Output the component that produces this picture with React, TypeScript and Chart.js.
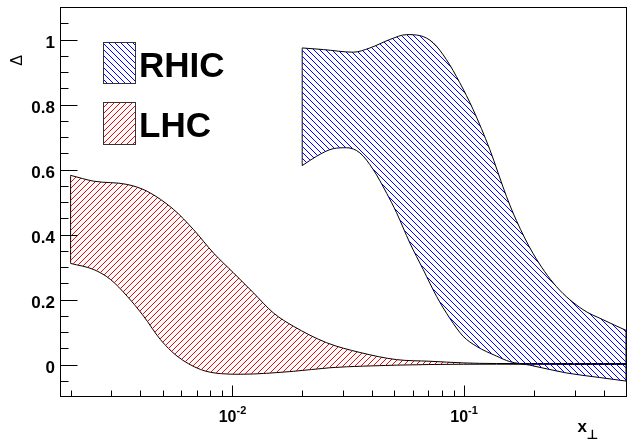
import React, { useEffect, useRef } from "react";
import { Chart, registerables } from "chart.js";
Chart.register(...registerables);

// ---- axis ranges ----
const xMin = 0.0018;
const xMax = 0.5;
const yMin = -0.1;
const yMax = 1.1;

// ---- tick labels ----
const yMajorTicks = [0, 0.2, 0.4, 0.6, 0.8, 1];
const yMajorLabels = ["0", "0.2", "0.4", "0.6", "0.8", "1"];
const yMinorStep = 0.05;
const xMajorTicks = [0.01, 0.1];
const xMajorBase = ["10", "10"];
const xMajorExp = ["-2", "-1"];
const xMinorTicks = [
  0.002, 0.003, 0.004, 0.005, 0.006, 0.007, 0.008, 0.009,
  0.02, 0.03, 0.04, 0.05, 0.06, 0.07, 0.08, 0.09,
  0.2, 0.3, 0.4, 0.5,
];

// ---- legend ----
const legendLabels = ["RHIC", "LHC"];

// ---- LHC band ----
const lhcUpperX = [0.002, 0.00252, 0.00351, 0.00428, 0.00557, 0.00679, 0.00828, 0.0101, 0.0123, 0.015, 0.0183, 0.0255, 0.0355, 0.0511, 0.0712, 0.099, 0.138, 0.192, 0.3, 0.5];
const lhcUpperY = [0.582, 0.564, 0.554, 0.533, 0.477, 0.415, 0.343, 0.282, 0.221, 0.159, 0.118, 0.067, 0.037, 0.015, 0.01, 0.005, 0.003, 0.003, 0.003, 0.003];
const lhcLowerX = [0.002, 0.00252, 0.00297, 0.00351, 0.00413, 0.00488, 0.00576, 0.00726, 0.00885, 0.0108, 0.0183, 0.0263, 0.0367, 0.0511, 0.0712, 0.138, 0.3, 0.5];
const lhcLowerY = [0.311, 0.292, 0.262, 0.21, 0.149, 0.077, 0.026, -0.015, -0.028, -0.03, -0.021, -0.01, -0.005, -0.002, 0.0, 0.001, 0.0, 0.0];

// ---- RHIC band ----
const rhicUpperX = [0.02, 0.0247, 0.0332, 0.0392, 0.0478, 0.0565, 0.0644, 0.0735, 0.0839, 0.0958, 0.1093, 0.129, 0.1524, 0.1682, 0.1983, 0.2502, 0.3258, 0.3973, 0.5];
const rhicUpperY = [0.974, 0.969, 0.961, 0.974, 1.0, 1.015, 1.012, 0.99, 0.938, 0.867, 0.785, 0.662, 0.517, 0.443, 0.342, 0.24, 0.169, 0.138, 0.105];
const rhicLowerX = [0.02, 0.0231, 0.0272, 0.0311, 0.0355, 0.0405, 0.0463, 0.0511, 0.0583, 0.0666, 0.076, 0.0868, 0.099, 0.1131, 0.1379, 0.1574, 0.192, 0.2763, 0.3845, 0.5];
const rhicLowerY = [0.612, 0.641, 0.664, 0.667, 0.651, 0.6, 0.527, 0.467, 0.374, 0.292, 0.21, 0.142, 0.087, 0.056, 0.026, 0.009, -0.002, -0.026, -0.04, -0.051];

const FONT = "'Liberation Sans', Arial, Helvetica, sans-serif";

function makeHatch(ctx: CanvasRenderingContext2D, color: string, forward: boolean) {
  const s = 6;
  const c = document.createElement("canvas");
  c.width = s;
  c.height = s;
  const g = c.getContext("2d")!;
  g.fillStyle = color;
  for (let i = 0; i < s; i++) {
    const y = forward ? (s - i) % s : i;
    g.fillRect(i, y, 1, 1);
  }
  return ctx.createPattern(c, "repeat")!;
}

const pts = (xs: number[], ys: number[]) => xs.map((x, i) => ({ x, y: ys[i] }));

export default function App() {
  const ref = useRef<HTMLCanvasElement>(null);
  useEffect(() => {
    document.body.style.margin = "0";
    const canvas = ref.current!;
    const ctx = canvas.getContext("2d")!;
    const blueHatch = makeHatch(ctx, "#0000ff", false);
    const redHatch = makeHatch(ctx, "#ff0000", true);

    const line = {
      borderColor: "#000000",
      borderWidth: 1,
      pointRadius: 0,
      pointHoverRadius: 0,
      tension: 0.4,
      cubicInterpolationMode: "monotone" as const,
    };

    const framePlugin = {
      id: "rootFrame",
      afterDraw(chart: any) {
        const c: CanvasRenderingContext2D = chart.ctx;
        const xs = chart.scales.x;
        const ys = chart.scales.y;
        const a = chart.chartArea;
        c.save();
        c.strokeStyle = "#000";
        c.fillStyle = "#000";
        c.lineWidth = 1;
        c.strokeRect(Math.round(a.left) + 0.5, Math.round(a.top) + 0.5, Math.round(a.right - a.left), Math.round(a.bottom - a.top) - 1);
        const L = Math.round(a.left) + 0.5;
        const B = Math.round(a.bottom) - 0.5;
        c.beginPath();
        for (let v = yMin; v <= yMax + 1e-9; v += yMinorStep) {
          const vv = Math.round(v * 100) / 100;
          const isMajor = yMajorTicks.some((m) => Math.abs(m - vv) < 1e-6);
          const py = Math.round(ys.getPixelForValue(vv)) + 0.5;
          if (py < a.top + 1 || py > a.bottom - 1) continue;
          c.moveTo(L, py);
          c.lineTo(L + (isMajor ? 17 : 8), py);
        }
        for (const v of xMinorTicks) {
          const px = Math.round(xs.getPixelForValue(v)) + 0.5;
          c.moveTo(px, B);
          c.lineTo(px, B - 6);
        }
        for (const v of xMajorTicks) {
          const px = Math.round(xs.getPixelForValue(v)) + 0.5;
          c.moveTo(px, B);
          c.lineTo(px, B - 11);
        }
        c.stroke();

        // y labels
        c.font = `bold 17px ${FONT}`;
        c.textAlign = "right";
        c.textBaseline = "alphabetic";
        yMajorTicks.forEach((v, i) => {
          const py = ys.getPixelForValue(v);
          c.fillText(yMajorLabels[i], 55, py + 8.5);
        });

        // x labels with superscripts
        c.textAlign = "left";
        xMajorTicks.forEach((v, i) => {
          const px = xs.getPixelForValue(v);
          c.font = `bold 16px ${FONT}`;
          const w1 = c.measureText(xMajorBase[i]).width;
          c.font = `bold 11px ${FONT}`;
          const w2 = c.measureText(xMajorExp[i]).width;
          const start = px - (w1 + w2) / 2;
          c.font = `bold 16px ${FONT}`;
          c.fillText(xMajorBase[i], start, 422);
          c.font = `bold 11px ${FONT}`;
          c.fillText(xMajorExp[i], start + w1, 413.5);
        });

        // x title
        c.font = `bold 17px ${FONT}`;
        c.fillText("x", 577.5, 432);
        c.font = `bold 13px 'DejaVu Sans', sans-serif`;
        c.fillText("\u22A5", 586.5, 439);

        // y title
        c.save();
        c.translate(21.7, 60.5);
        c.rotate(-Math.PI / 2);
        c.textAlign = "center";
        c.font = `16px ${FONT}`;
        c.fillText("\u0394", 0, 0);
        c.restore();

        // legend
        const boxes = [
          { y: 42, h: 41, pat: blueHatch, base: 76.7 },
          { y: 102, h: 42, pat: redHatch, base: 136.7 },
        ];
        boxes.forEach((b, i) => {
          c.fillStyle = b.pat;
          c.fillRect(103, b.y, 32, b.h);
          c.strokeStyle = "#333";
          c.strokeRect(103.5, b.y + 0.5, 32, b.h);
          c.fillStyle = "#000";
          c.font = `bold 35px ${FONT}`;
          c.textAlign = "left";
          c.fillText(legendLabels[i], 139, b.base);
        });
        c.restore();
      },
    };

    const chart = new Chart(canvas, {
      type: "line",
      data: {
        datasets: [
          { ...line, data: pts(rhicUpperX, rhicUpperY), fill: "+1", backgroundColor: blueHatch },
          { ...line, data: pts(rhicLowerX, rhicLowerY), fill: false },
          { ...line, data: pts(lhcUpperX, lhcUpperY), fill: "+1", backgroundColor: redHatch },
          { ...line, data: pts(lhcLowerX, lhcLowerY), fill: false },
          { ...line, tension: 0, data: [{ x: rhicLowerX[0], y: rhicLowerY[0] }, { x: rhicUpperX[0], y: rhicUpperY[0] }], fill: false },
          { ...line, tension: 0, data: [{ x: rhicLowerX[rhicLowerX.length - 1], y: rhicLowerY[rhicLowerY.length - 1] }, { x: rhicUpperX[rhicUpperX.length - 1], y: rhicUpperY[rhicUpperY.length - 1] }], fill: false },
          { ...line, tension: 0, data: [{ x: lhcLowerX[0], y: lhcLowerY[0] }, { x: lhcUpperX[0], y: lhcUpperY[0] }], fill: false },
        ] as any,
      },
      options: {
        responsive: false,
        animation: false,
        events: [],
        layout: { padding: { left: 60, right: 5, top: 7, bottom: 43 } },
        scales: {
          x: { type: "logarithmic", min: xMin, max: xMax, display: false },
          y: { type: "linear", min: yMin, max: yMax, display: false },
        },
        plugins: { legend: { display: false }, tooltip: { enabled: false } },
      } as any,
      plugins: [framePlugin],
    });
    return () => chart.destroy();
  }, []);
  return <canvas ref={ref} width={631} height={440} style={{ display: "block" }} />;
}
